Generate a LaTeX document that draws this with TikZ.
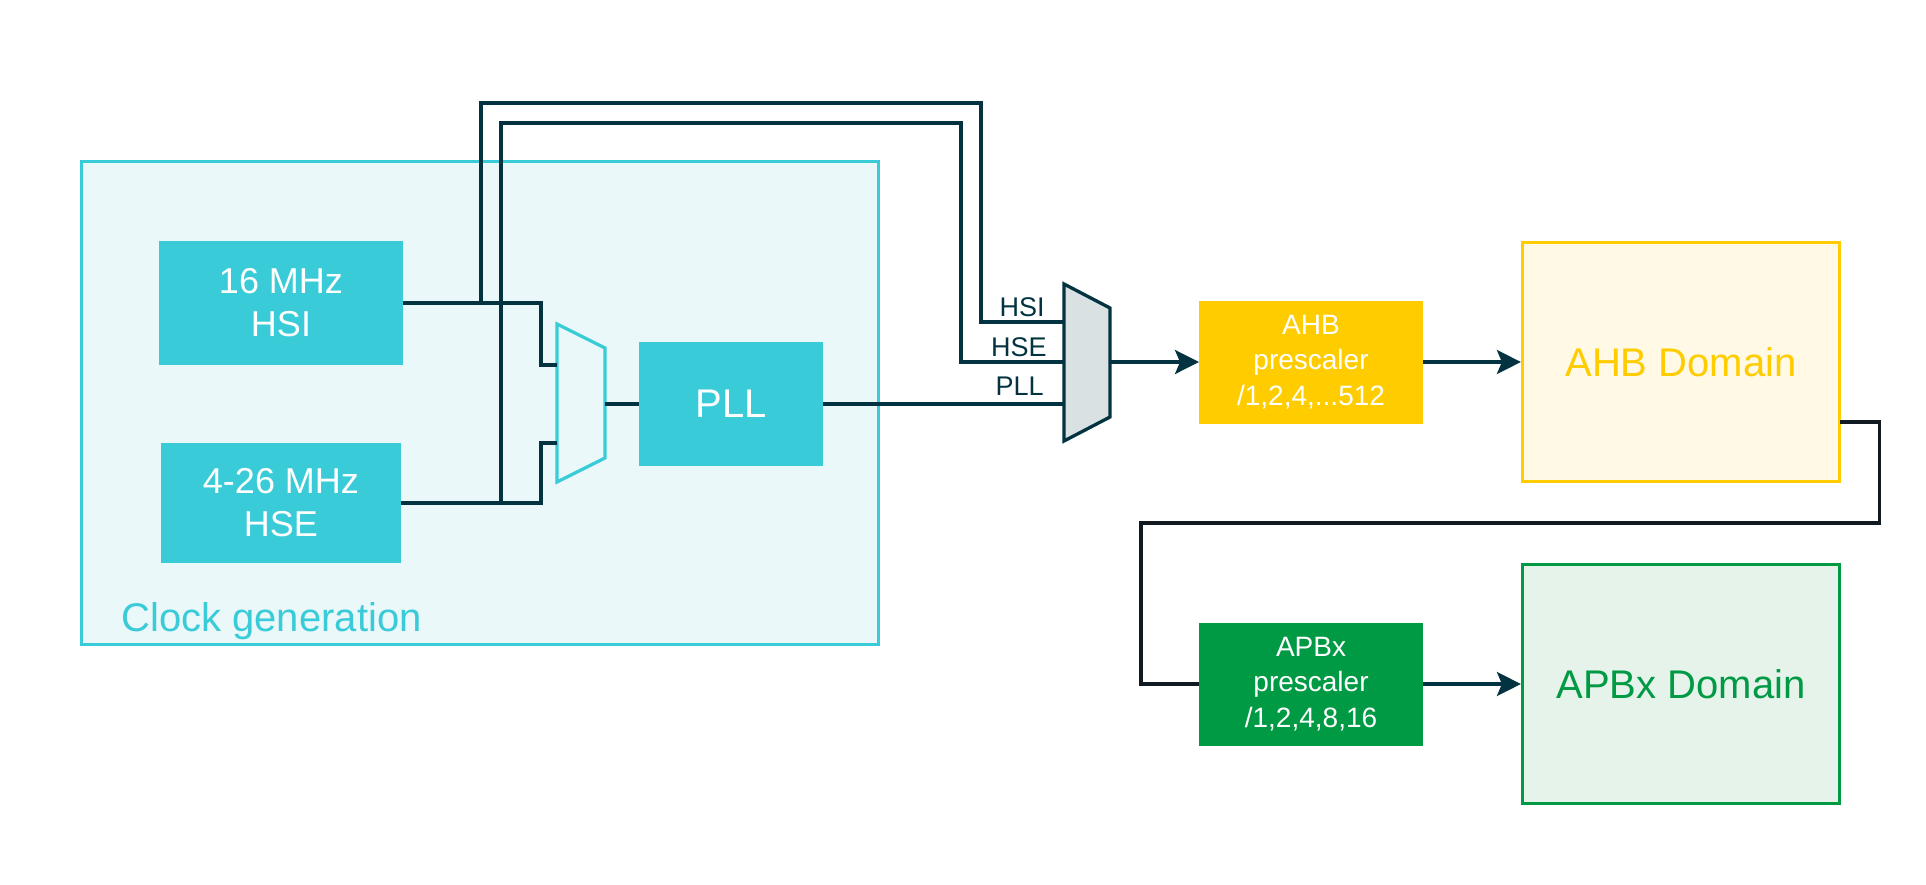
\documentclass[tikz,border=0pt]{standalone}
\usepackage{fontspec}
\setmainfont{Liberation Sans}
\usetikzlibrary{arrows.meta}

\definecolor{clkcyan}{RGB}{57,203,216}
\definecolor{clkback}{RGB}{234,248,250}
\definecolor{wirecol}{RGB}{3,51,64}
\definecolor{loopcol}{RGB}{16,26,32}
\definecolor{muxgray}{RGB}{217,225,226}
\definecolor{ahbyellow}{RGB}{255,204,0}
\definecolor{ahbback}{RGB}{255,249,230}
\definecolor{apbgreen}{RGB}{0,154,68}
\definecolor{apbback}{RGB}{229,243,235}

\begin{document}
\begin{tikzpicture}[x=0.5pt, y=-0.5pt, >={Stealth[length=12pt, width=12pt, inset=2.5pt]},
  box/.style={rectangle, inner sep=0pt, outer sep=0pt},
  clock node/.style={box, fill=clkcyan, text=white, align=center, font=\fontsize{18}{21.5}\selectfont},
  pre node/.style={box, text=white, align=center, minimum width=112pt, minimum height=61.5pt, font=\fontsize{14}{17.75}\selectfont},
  domain node/.style={box, draw, line width=1.65pt, minimum width=158.5pt, minimum height=119.5pt, font=\fontsize{20}{24}\selectfont},
  wire/.style={draw=wirecol, line width=1.65pt},
  mux label/.style={anchor=base east, inner sep=0pt, text=wirecol, font=\fontsize{13.5}{16}\selectfont}]
\useasboundingbox (0,0) rectangle (1926,884);

% clock generation block
\node [box, draw=clkcyan, fill=clkback, line width=1.65pt, minimum width=398.5pt, minimum height=241.5pt] (clkgen) at (480,403) {};
\node [anchor=base west, inner sep=0pt, text=clkcyan, font=\fontsize{20}{24}\selectfont] (cglabel) at (121,631) {Clock generation};

\node [clock node, minimum width=122pt, minimum height=62pt] (hsi) at (281,303) {16 MHz\\HSI};
\node [clock node, minimum width=120pt, minimum height=60pt] (hse) at (281,503) {4-26 MHz\\HSE};
\node [clock node, minimum width=92pt, minimum height=62pt, font=\fontsize{20}{24}\selectfont] (pll) at (731,404) {PLL};

% PLL input mux
\draw [draw=clkcyan, fill=clkback, line width=1.65pt] (557,324) -- (605,348) -- (605,458) -- (557,482) -- cycle;
\coordinate (muxa-in1) at (557,365);
\coordinate (muxa-in2) at (557,443);
\coordinate (muxa-out) at (605,404);

% system clock mux
\draw [draw=wirecol, fill=muxgray, line width=1.65pt] (1064,284) -- (1110,308) -- (1110,417) -- (1064,441) -- cycle;
\coordinate (muxb-in1) at (1064,322);
\coordinate (muxb-in2) at (1064,362);
\coordinate (muxb-in3) at (1064,404);
\coordinate (muxb-out) at (1110,362);

\node [mux label] (lhsi) at ([xshift=-9.5pt, yshift=3pt]muxb-in1) {HSI};
\node [mux label] (lhse) at ([xshift=-8.5pt, yshift=3pt]muxb-in2) {HSE};
\node [mux label] (lpll) at ([xshift=-10pt, yshift=4.5pt]muxb-in3) {PLL};

% bus prescalers and domains
\node [pre node, fill=ahbyellow] (ahbpre) at (1311,362) {AHB\\prescaler\\/1,2,4,...512};
\node [pre node, fill=apbgreen] (apbpre) at (1311,684) {APBx\\prescaler\\/1,2,4,8,16};
\node [domain node, draw=ahbyellow, fill=ahbback, text=ahbyellow] (ahbdom) at (1681,362) {AHB Domain};
\node [domain node, draw=apbgreen, fill=apbback, text=apbgreen] (apbdom) at (1681,684) {APBx Domain};

% wiring
\coordinate (tapi) at (481,303);
\coordinate (tape) at (501,503);
\draw [wire] (hsi.east) -| ([xshift=-8pt]muxa-in1) -- (muxa-in1);
\draw [wire] (hse.east) -| ([xshift=-8pt]muxa-in2) -- (muxa-in2);
\draw [wire] (muxa-out) -- (pll.west);
\draw [wire] (tapi) |- (981,103) |- (muxb-in1);
\draw [wire] (tape) |- (961,123) |- (muxb-in2);
\draw [wire] (pll.east) -- (muxb-in3);
\draw [wire, ->] (muxb-out) -- (ahbpre.west);
\draw [wire, ->] (ahbpre.east) -- ([xshift=-0.8pt]ahbdom.west);
\draw [wire, draw=loopcol] ([yshift=-30pt]ahbdom.east) -- ++(40,0) |- (1141,523) |- (apbpre.west);
\draw [wire, ->] (apbpre.east) -- ([xshift=-0.8pt]apbdom.west);
\end{tikzpicture}
\end{document}
